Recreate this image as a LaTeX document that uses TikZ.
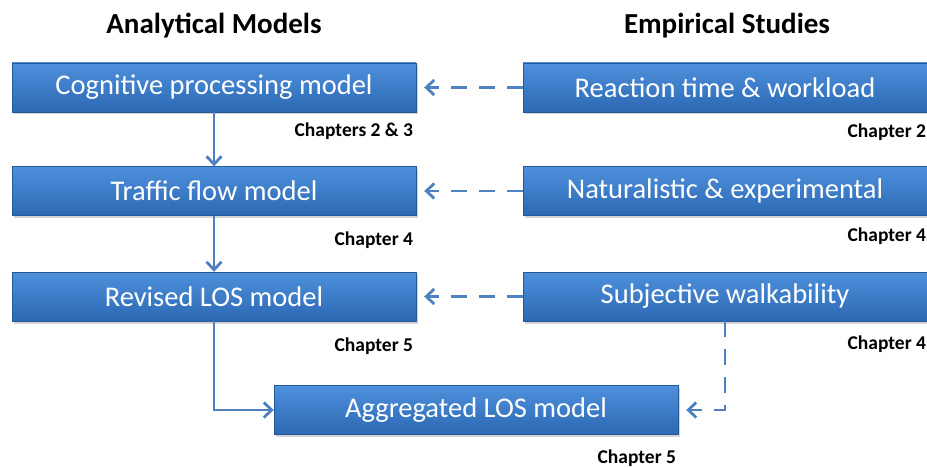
\documentclass[tikz,border=0pt]{standalone}
\usepackage{fontspec}
\setmainfont{Carlito}
\usetikzlibrary{positioning, arrows.meta, shadows}

\definecolor{boxtop}{HTML}{4E90DC}
\definecolor{boxbot}{HTML}{2C68B3}
\definecolor{arrowblue}{HTML}{4F80BF}

\begin{document}
\begin{tikzpicture}[
  x=1pt, y=-1pt,
  model/.style={rectangle, minimum width=404pt, minimum height=49pt, inner sep=0pt,
    top color=boxtop, bottom color=boxbot, draw=boxbot!85!black, line width=0.4pt,
    text=white, font=\fontsize{28.5}{32}\selectfont,
    drop shadow={opacity=0.35, shadow xshift=1.5pt, shadow yshift=-2.5pt}},
  chap/.style={font=\fontsize{19.5}{22}\selectfont\bfseries, inner sep=0pt},
  heading/.style={font=\fontsize{29}{33}\selectfont\bfseries, anchor=base},
  flow/.style={-{Straight Barb[length=8pt, width=15pt]}, line width=2.8pt, draw=arrowblue},
  feed/.style={flow, dash pattern=on 16pt off 12pt, shorten >=8pt}
]
\useasboundingbox (0,0) rectangle (927,468);

% Headings
\node[heading] (analytical) at (214,34) {Analytical Models};
\node[heading] (empirical) at (727,34) {Empirical Studies};

% Analytical models
\node[model] (cognitive) at (214,87.5) {Cognitive processing model};
\node[model] (traffic) at (214,191) {Traffic flow model};
\node[model] (revised) at (214,296.5) {Revised LOS model};
\node[model] (aggregated) at (476,410) {Aggregated LOS model};

% Empirical studies
\node[model] (reaction) at (725,87.5) {Reaction time \& workload};
\node[model] (naturalistic) at (725,191) {Naturalistic \& experimental};
\node[model] (subjective) at (725,296.5) {Subjective walkability};

% Chapter labels
\node[chap, below left=24pt and 3pt of cognitive.south east, anchor=base east] (chapcog) {Chapters 2 \& 3};
\node[chap, below left=30pt and 3pt of traffic.south east, anchor=base east] (chaptraffic) {Chapter 4};
\node[chap, below left=30pt and 3pt of revised.south east, anchor=base east] (chaprevised) {Chapter 5};
\node[chap, below left=29pt and 2pt of aggregated.south east, anchor=base east] (chapaggr) {Chapter 5};
\node[chap, below left=25pt and 1pt of reaction.south east, anchor=base east] (chapreaction) {Chapter 2};
\node[chap, below left=26pt and 1pt of naturalistic.south east, anchor=base east] (chapnatural) {Chapter 4};
\node[chap, below left=28pt and 1pt of subjective.south east, anchor=base east] (chapsubj) {Chapter 4};

% Connectors
\draw[flow] (cognitive) -- (traffic);
\draw[flow] (traffic) -- (revised);
\draw[flow] (revised.south) |- (aggregated.west);
\draw[feed] (reaction) -- (cognitive);
\draw[feed] (naturalistic) -- (traffic);
\draw[feed] (subjective) -- (revised);
\draw[feed] (subjective.south) |- (aggregated.east);

\end{tikzpicture}
\end{document}
